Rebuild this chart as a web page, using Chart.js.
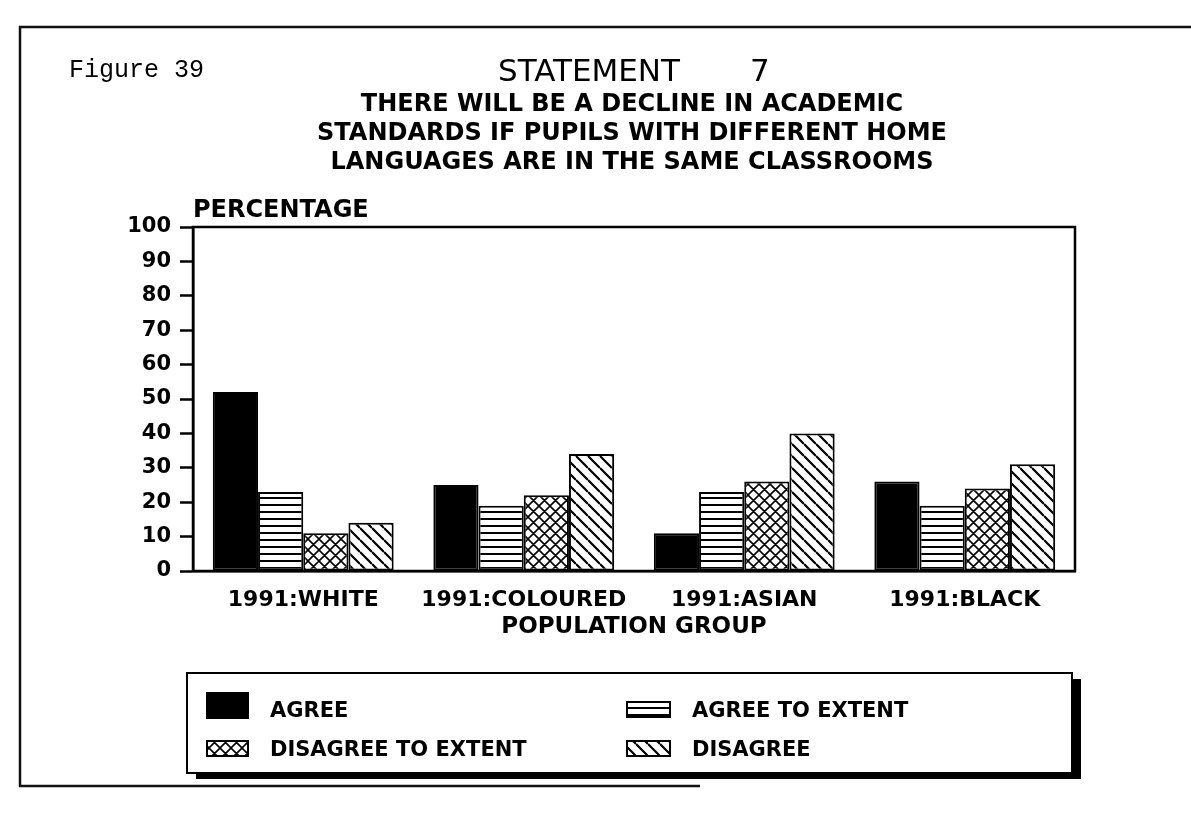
<!DOCTYPE html>
<html>
<head>
<meta charset="utf-8">
<title>Statement 7</title>
<script src="https://cdn.jsdelivr.net/npm/chart.js@4.4.1/dist/chart.umd.min.js"></script>
<style>
  html, body { margin: 0; padding: 0; background: #fff; }
  canvas { display: block; }
</style>
</head>
<body>
<canvas id="statementChart" width="1191" height="823"></canvas>
<script>
// survey answers per population group, in percent
const categories = ["1991:WHITE", "1991:COLOURED", "1991:ASIAN", "1991:BLACK"];
const seriesNames = ["AGREE", "AGREE TO EXTENT", "DISAGREE TO EXTENT", "DISAGREE"];
const agree = [52, 25, 11, 26];
const agreeToExtent = [23, 19, 23, 19];
const disagreeToExtent = [11, 22, 26, 24];
const disagree = [14, 34, 40, 31];
const yTicks = [0, 10, 20, 30, 40, 50, 60, 70, 80, 90, 100];

const figureLabel = "Figure 39";
const titleText = "STATEMENT 7";
const subtitleLines = [
  "THERE WILL BE A DECLINE IN ACADEMIC",
  "STANDARDS IF PUPILS WITH DIFFERENT HOME",
  "LANGUAGES ARE IN THE SAME CLASSROOMS"
];
const yAxisLabel = "PERCENTAGE";
const xAxisLabel = "POPULATION GROUP";

const canvas = document.getElementById("statementChart");
const ctx = canvas.getContext("2d");
const BOLD = "bold {s}px 'DejaVu Sans', sans-serif";
const font = s => BOLD.replace("{s}", s);

// hatch fills, like the old plotter patterns
function makePattern(kind) {
  const tile = document.createElement("canvas");
  const s = kind === "lines" ? 7 : (kind === "cross" ? 11 : 12);
  tile.width = s;
  tile.height = s;
  const t = tile.getContext("2d");
  t.fillStyle = "#fff";
  t.fillRect(0, 0, s, s);
  t.strokeStyle = "#000";
  if (kind === "lines") {
    t.fillStyle = "#000";
    t.fillRect(0, 0, s, 2);
  } else {
    t.lineWidth = kind === "cross" ? 1.6 : 2.2;
    t.beginPath();
    for (let k = -1; k <= 1; k++) {
      t.moveTo(0, k * s);
      t.lineTo(s, k * s + s);
    }
    if (kind === "cross") {
      for (let k = 0; k <= 2; k++) {
        t.moveTo(0, k * s);
        t.lineTo(s, k * s - s);
      }
    }
    t.stroke();
  }
  return ctx.createPattern(tile, "repeat");
}

const fills = ["#000", makePattern("lines"), makePattern("cross"), makePattern("diag")];
const seriesValues = [agree, agreeToExtent, disagreeToExtent, disagree];

// titles, page rule, plot frame and the boxed legend
const decorPlugin = {
  id: "decor",
  afterDraw(chart) {
    const c = chart.ctx;
    const area = chart.chartArea;
    c.save();

    // page rule
    c.strokeStyle = "#111";
    c.lineWidth = 2.5;
    c.beginPath();
    c.moveTo(1191, 27);
    c.lineTo(20, 27);
    c.lineTo(20, 786);
    c.lineTo(700, 786);
    c.stroke();

    c.fillStyle = "#000";
    c.textBaseline = "alphabetic";
    c.textAlign = "left";
    c.font = "25px 'Liberation Mono', monospace";
    c.fillText(figureLabel, 69, 77);

    const [word, num] = titleText.split(" ");
    c.font = "31px 'DejaVu Sans', sans-serif";
    c.fillText(word, 498, 81);
    c.fillText(num, 750, 81);

    c.textAlign = "center";
    c.font = font(24);
    subtitleLines.forEach((line, i) => c.fillText(line, 632, 111 + i * 29));

    c.textAlign = "left";
    c.fillText(yAxisLabel, 193, 217);

    // frame around the plot
    c.strokeStyle = "#000";
    c.lineWidth = 2.5;
    c.strokeRect(area.left, area.top, area.right - area.left, area.bottom - area.top);

    // legend box with drop shadow
    const box = { x: 187, y: 673, w: 885, h: 100 };
    c.fillStyle = "#000";
    c.fillRect(box.x + 9, box.y + 6, box.w, box.h);
    c.fillStyle = "#fff";
    c.fillRect(box.x, box.y, box.w, box.h);
    c.lineWidth = 2;
    c.strokeRect(box.x, box.y, box.w, box.h);

    const items = [
      { sx: 207, sy: 693, sw: 41, sh: 25, tx: 270, ty: 717 },
      { sx: 627, sy: 702, sw: 43, sh: 15, tx: 692, ty: 717 },
      { sx: 207, sy: 741, sw: 41, sh: 15, tx: 270, ty: 756 },
      { sx: 627, sy: 741, sw: 43, sh: 15, tx: 692, ty: 756 }
    ];
    c.font = font(21);
    chart.data.datasets.forEach((ds, i) => {
      const it = items[i];
      c.fillStyle = ds.backgroundColor;
      c.fillRect(it.sx, it.sy, it.sw, it.sh);
      c.strokeStyle = "#000";
      c.lineWidth = 2;
      c.strokeRect(it.sx, it.sy, it.sw, it.sh);
      c.fillStyle = "#000";
      c.fillText(ds.label, it.tx, it.ty);
    });

    c.restore();
  }
};

new Chart(ctx, {
  type: "bar",
  data: {
    labels: categories,
    datasets: seriesNames.map((name, i) => ({
      label: name,
      data: seriesValues[i],
      backgroundColor: fills[i],
      borderColor: "#000",
      borderWidth: 2,
      borderSkipped: false,
      categoryPercentage: 0.82,
      barPercentage: 1.0
    }))
  },
  options: {
    responsive: false,
    animation: false,
    layout: { padding: { top: 227, right: 116, bottom: 182, left: 0 } },
    scales: {
      x: {
        afterFit: scale => { scale.height = 70; },
        grid: { display: false },
        border: { display: true, color: "#000", width: 2.5 },
        ticks: { color: "#000", font: { family: "'DejaVu Sans', sans-serif", size: 22, weight: "bold" }, padding: 8, maxRotation: 0 },
        title: {
          display: true,
          text: xAxisLabel,
          color: "#000",
          font: { family: "'DejaVu Sans', sans-serif", size: 23, weight: "bold" },
          padding: { top: 4, bottom: 0 }
        }
      },
      y: {
        min: yTicks[0],
        max: yTicks[yTicks.length - 1],
        afterFit: scale => { scale.width = 193; },
        afterBuildTicks: scale => { scale.ticks = yTicks.map(v => ({ value: v })); },
        grid: { drawOnChartArea: false, drawTicks: true, tickLength: 13, tickWidth: 2.5, color: "#000", tickColor: "#000" },
        border: { display: true, color: "#000", width: 2.5 },
        ticks: { color: "#000", font: { family: "'DejaVu Sans', sans-serif", size: 21, weight: "bold" }, padding: 9 }
      }
    },
    plugins: {
      legend: { display: false },
      tooltip: { enabled: false }
    }
  },
  plugins: [decorPlugin]
});
</script>
</body>
</html>
